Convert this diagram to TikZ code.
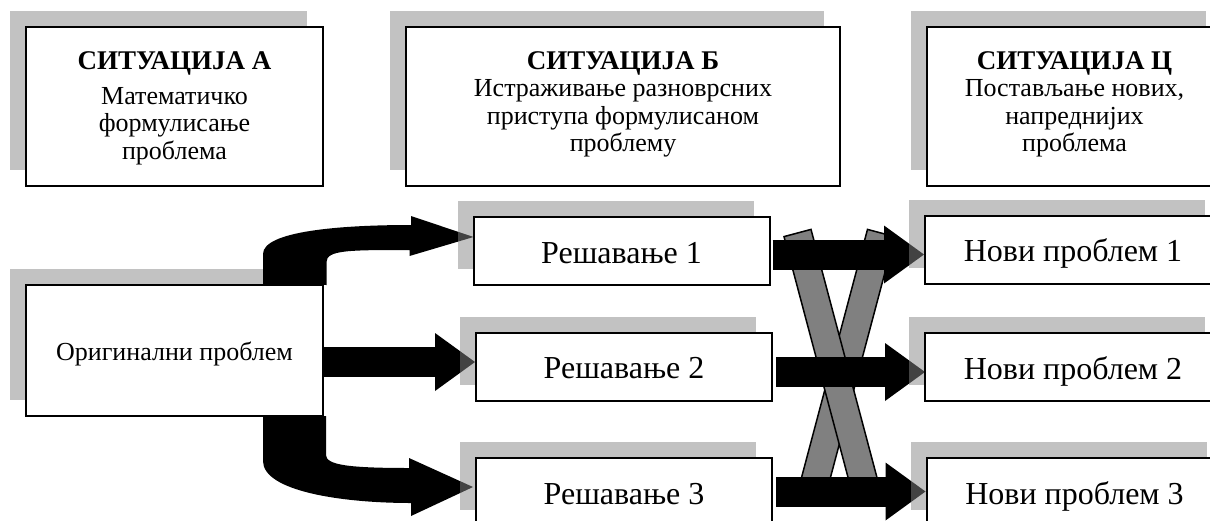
\documentclass[tikz,border=0pt]{standalone}
\usepackage{fontspec}
\setmainfont{Liberation Serif}
\usetikzlibrary{arrows.meta,calc,shadows}
\pgfdeclarelayer{bottom}
\pgfdeclarelayer{middle}
\pgfsetlayers{bottom,middle,main}

\begin{document}
\begin{tikzpicture}[
    x=0.5pt, y=-0.5pt,
    % Styles - boxes carry a grey shadow up and to the left
    box/.style={rectangle, draw=black, fill=white, line width=1pt, inner sep=0pt, align=center,
        drop shadow={shadow xshift=-8pt, shadow yshift=8pt, fill=black!48, opacity=0.5}},
    situation/.style={box, minimum height=79.5pt},
    sittext/.style={anchor=north, inner sep=0pt, align=center, font=\fontsize{13}{13.75}\selectfont},
    solution/.style={box, minimum width=148pt, minimum height=34pt, text height=14pt, text depth=2pt,
        font=\fontsize{16}{18}\selectfont},
    blockarrow/.style={line width=15pt, -{Triangle[length=20pt, width=29pt, line width=0pt]}},
    crossbar/.style={fill=black!50, draw=black, line width=0.75pt}
]
\useasboundingbox (0,0) rectangle (1210,520);

% Situations
\node[situation, minimum width=148.5pt] (sitA) at (174.5,106.5) {};
\node[sittext] (sitAtext) at ($(sitA.north)+(0,23)$)
    {\rule{0pt}{10pt}{\fontsize{13.5}{13.75}\selectfont\bfseries СИТУАЦИЈА А}\\[3.75pt] Математичко\\ формулисање\\ проблема};
\node[situation, minimum width=217pt] (sitB) at (623,106.5) {};
\node[sittext] (sitBtext) at ($(sitB.north)+(0,23)$)
    {\rule{0pt}{10pt}{\fontsize{13.5}{13.75}\selectfont\bfseries СИТУАЦИЈА Б}\\ Истраживање разноврсних\\ приступа формулисаном\\ проблему};
\node[situation, minimum width=147.5pt] (sitC) at (1074.5,106.5) {};
\node[sittext] (sitCtext) at ($(sitC.north)+(0,23)$)
    {\rule{0pt}{10pt}{\fontsize{13.5}{13.75}\selectfont\bfseries СИТУАЦИЈА Ц}\\ Постављање нових,\\ напреднијих\\ проблема};

% Original problem (under the arrows)
\begin{pgfonlayer}{bottom}
\node[box, minimum width=148.5pt, minimum height=65.5pt, text height=11.5pt, text depth=2pt,
    font=\fontsize{13}{15}\selectfont] (orig) at (174.5,350.5) {Оригинални проблем};
\end{pgfonlayer}

% Solutions
\node[solution] (res1) at (621.5,251) {Решавање 1};
\node[solution] (res2) at (624,366.5) {Решавање 2};
\node[solution] (res3) at (624,492) {Решавање 3};

% New problems
\node[solution] (novi1) at (1073,249.5) {Нови проблем 1};
\node[solution] (novi2) at (1073,367) {Нови проблем 2};
\node[solution] (novi3) at (1074.5,492) {Нови проблем 3};

\begin{pgfonlayer}{middle}
% Curved arrows out of the original problem
\fill ($(orig.north east)+(-61,0)$) -- ++(0,-30) .. controls +(0,-23) and +(-70,0) .. ++(148,-29)
    -- ++(0,-9) -- ($(res1.west)+(1,-14)$) -- ++(-64,19) -- ++(0,-6)
    .. controls +(-60,0) and +(0,-12) .. ++(-83,12) -- ++(0,23) -- cycle;
\fill ($(orig.south east)+(-61,0)$) -- ++(0,44) .. controls +(0,30) and +(-70,0) .. ++(148,42)
    -- ++(0,13) -- ($(res3.west)+(-2,-5)$) -- ++(-64,-29) -- ++(0,10)
    .. controls +(-60,0) and +(0,10) .. ++(-83,-13) -- ++(0,-39) -- cycle;
\draw[blockarrow] ($(orig.east)+(0,11.5)$) -- ($(orig.east -| res2.west)+(0,11.5)$);

% Crossing bars
\draw[crossbar] (867.5,229.4) -- (894.5,236.6) -- (823.5,503.6) -- (796.5,496.4) -- cycle;
\draw[crossbar] (784,236.6) -- (811,229.4) -- (882,496.4) -- (855,503.6) -- cycle;

% Solutions to new problems
\draw[blockarrow] ($(res1.east)+(2,3.5)$) -- ($(res1.east -| novi1.west)+(0,3.5)$);
\draw[blockarrow] ($(res2.east)+(3,5.5)$) -- ($(res2.east -| novi2.west)+(1,5.5)$);
\draw[blockarrow] ($(res3.east)+(3,-0.5)$) -- ($(res3.east -| novi3.west)+(0,-0.5)$);
\end{pgfonlayer}

\end{tikzpicture}
\end{document}
